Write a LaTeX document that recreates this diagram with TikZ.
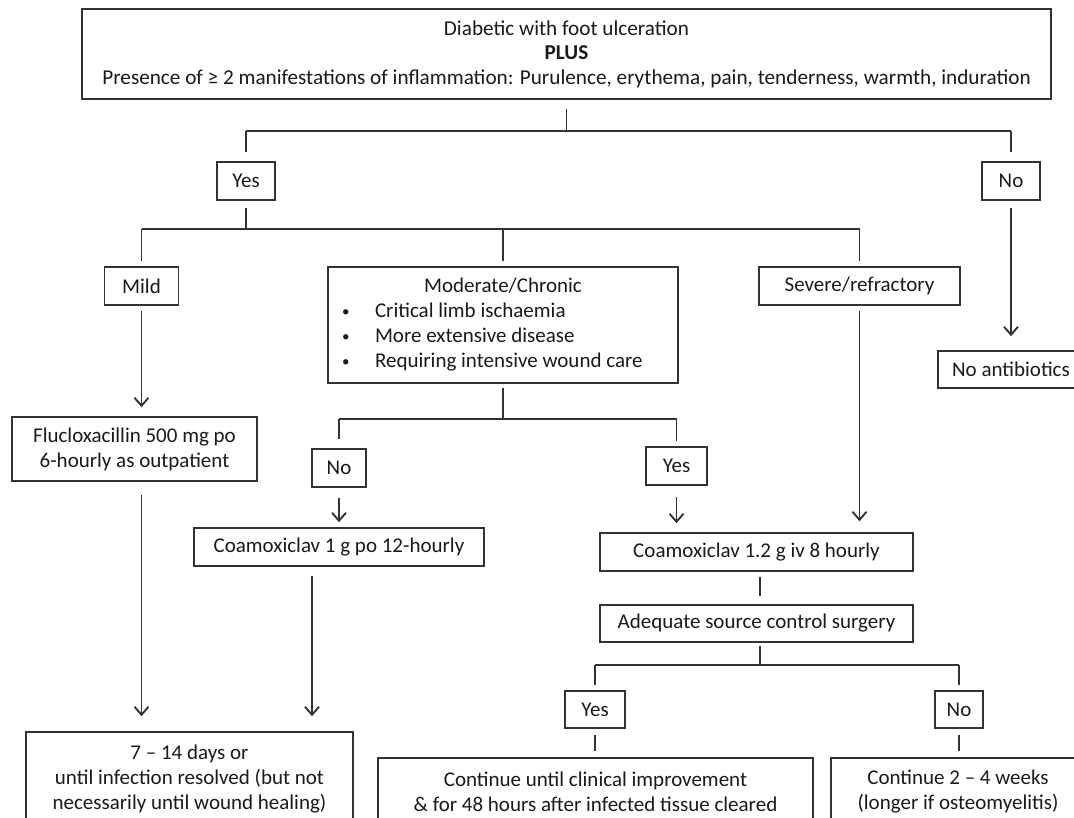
\documentclass[tikz,border=0pt]{standalone}
\usepackage{fontspec}
\setmainfont{Carlito}
\usetikzlibrary{arrows.meta}
\definecolor{lncol}{HTML}{333333}
\definecolor{txtcol}{HTML}{1A1A1A}
\newcommand{\smbul}{\makebox[33pt][l]{\raisebox{1pt}{\fontsize{15}{15}\selectfont\textbullet}}}
\tikzset{
  box/.style={draw=lncol, line width=1.6pt, inner sep=0pt, align=center, text=txtcol,
    font=\fontsize{21}{25}\selectfont},
  ln/.style={draw=lncol, line width=1.7pt},
  arr/.style={ln, -{Straight Barb[length=8pt,width=14pt,line width=1.9pt]}},
}
\begin{document}
\begin{tikzpicture}[x=1pt,y=-1pt]
\useasboundingbox (0,0) rectangle (1074,818);
\fill[white] (0,0) rectangle (1074,818);
\clip (0,0) rectangle (1074,818);

% nodes
\node[box, minimum width=969, minimum height=90,
  font=\fontsize{21.2}{24.5}\selectfont] (top) at (566.5,54)
  {Diabetic with foot ulceration\\ \textbf{PLUS}\\ Presence of ≥ 2 manifestations of inflammation: Purulence, erythema, pain, tenderness, warmth, induration};
\node[box, minimum width=58, minimum height=38] (yesA) at (246,181) {Yes};
\node[box, minimum width=58, minimum height=38] (noA) at (1011,181) {No};
\node[box, minimum width=74, minimum height=38] (mild) at (141.5,286) {Mild};
\node[box, minimum width=350, minimum height=116, inner xsep=14pt, text width=322pt, align=flush left] (mod) at (503,325)
  {\makebox[\linewidth][c]{Moderate/Chronic}\\
   \smbul Critical limb ischaemia\\
   \smbul More extensive disease\\
   \smbul Requiring intensive wound care};
\node[box, minimum width=201, minimum height=38] (sev) at (859.5,286) {Severe/refractory};
\node[box, minimum width=146, minimum height=37] (noab) at (1011,369.5) {No antibiotics};
\node[box, minimum width=245, minimum height=64] (flu) at (134.5,449) {Flucloxacillin 500 mg po\\ 6-hourly as outpatient};
\node[box, minimum width=54, minimum height=38] (noB) at (339,468) {No};
\node[box, minimum width=61, minimum height=38] (yesB) at (676.5,466) {Yes};
\node[box, minimum width=290, minimum height=38] (coam1) at (339,547) {Coamoxiclav 1 g po 12-hourly};
\node[box, minimum width=313, minimum height=38] (coam2) at (756.5,552) {Coamoxiclav 1.2 g iv 8 hourly};
\node[box, minimum width=313, minimum height=37] (adeq) at (756.5,623.5) {Adequate source control surgery};
\node[box, minimum width=60, minimum height=37] (yesC) at (595,709.5) {Yes};
\node[box, minimum width=48, minimum height=37] (noC) at (959,709.5) {No};
\node[box, minimum width=327, minimum height=94] (res1) at (189.5,779) {7 – 14 days or\\ until infection resolved (but not\\ necessarily until wound healing)};
\node[box, minimum width=435, minimum height=68] (res2) at (595.5,792) {Continue until clinical improvement\\ \& for 48 hours after infected tissue cleared};
\node[box, minimum width=254, minimum height=68] (res3) at (958,792) {Continue 2 – 4 weeks\\ (longer if osteomyelitis)};

% junction levels and offset columns
\coordinate (j1) at (0,131);
\coordinate (j2) at (0,229);
\coordinate (j3) at (0,419);
\coordinate (j4) at (0,665);
\coordinate (c1) at (312,0);
\coordinate (c2) at (760,0);

% top split
\draw[ln, shorten <=9pt] (top.south) -- (top.south |- j1);
\draw[ln] (yesA.north |- j1) -- (noA.north |- j1);
\draw[ln, shorten >=9pt] (yesA.north |- j1) -- (yesA.north);
\draw[ln, shorten >=9pt] (noA.north |- j1) -- (noA.north);

% yes split
\draw[ln, shorten <=7pt] (yesA.south) -- (yesA.south |- j2);
\draw[ln] (mild.north |- j2) -- (sev.north |- j2);
\draw[ln, shorten >=5pt] (mild.north |- j2) -- (mild.north);
\draw[ln, shorten >=5pt] (mod.north |- j2) -- (mod.north);
\draw[ln, shorten >=5pt] (sev.north |- j2) -- (sev.north);

% no -> no antibiotics
\draw[arr, shorten <=7pt, shorten >=14pt] (noA.south) -- (noab.north);

% mild branch
\draw[arr, shorten <=5pt, shorten >=9pt] (mild.south) -- (mild.south |- flu.north);
\draw[arr, shorten <=13pt, shorten >=15pt] (flu.south -| mild.south) -- (mild.south |- res1.north);

% moderate split
\draw[ln, shorten <=4pt] (mod.south) -- (mod.south |- j3);
\draw[ln] (noB.north |- j3) -- (yesB.north |- j3);
\draw[ln, shorten >=9pt] (noB.north |- j3) -- (noB.north);
\draw[ln, shorten >=5pt] (yesB.north |- j3) -- (yesB.north);
\draw[arr, shorten <=10pt, shorten >=5pt] (noB.south) -- (noB.south |- coam1.north);
\draw[arr, shorten <=11pt, shorten >=9pt] (yesB.south) -- (yesB.south |- coam2.north);
\draw[arr, shorten <=9pt, shorten >=15pt] (coam1.south -| c1) -- (c1 |- res1.north);

% severe branch
\draw[arr, shorten <=5pt, shorten >=11pt] (sev.south) -- (sev.south |- coam2.north);

% iv branch
\draw[ln, shorten <=5pt, shorten >=8pt] (coam2.south -| c2) -- (c2 |- adeq.north);
\draw[ln, shorten <=3pt] (adeq.south -| c2) -- (c2 |- j4);
\draw[ln] (yesC.north |- j4) -- (noC.north |- j4);
\draw[ln, shorten >=5pt] (yesC.north |- j4) -- (yesC.north);
\draw[ln, shorten >=5pt] (noC.north |- j4) -- (noC.north);
\draw[ln, shorten <=6pt, shorten >=6pt] (yesC.south) -- (res2.north -| yesC.south);
\draw[ln, shorten <=6pt, shorten >=6pt] (noC.south) -- (res3.north -| noC.south);
\end{tikzpicture}
\end{document}
